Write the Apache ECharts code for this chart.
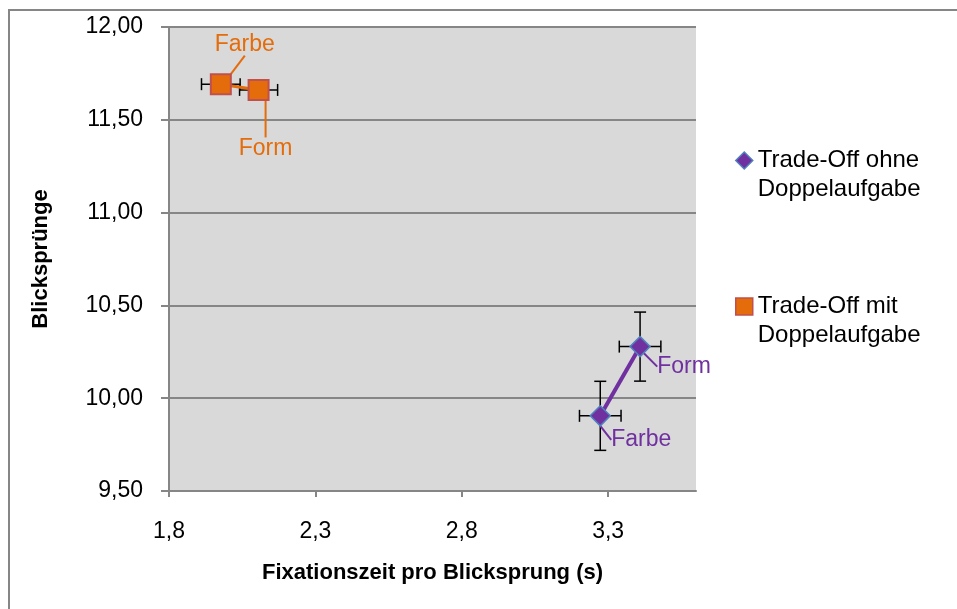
<!DOCTYPE html>
<html>
<head>
<meta charset="utf-8">
<script src="https://cdn.jsdelivr.net/npm/echarts@6/dist/echarts.min.js"></script>
<style>
html,body{margin:0;padding:0;background:#fff;}
#chart{width:957px;height:609px;}
</style>
</head>
<body>
<div id="chart"></div>
<script>
// ---- data ----
var seriesNames = ['Trade-Off ohne\nDoppelaufgabe', 'Trade-Off mit\nDoppelaufgabe'];
var pointLabels = ['Farbe', 'Form'];
// ohne Doppelaufgabe
var ohneX = [3.273, 3.409];
var ohneY = [9.905, 10.278];
var ohneXErr = [0.071, 0.071];
var ohneYErr = [0.186, 0.186];
// mit Doppelaufgabe
var mitX = [1.977, 2.106];
var mitY = [11.692, 11.661];
var mitXErr = [0.066, 0.065];
var mitYErr = [0, 0];
// axes
var xMin = 1.8, xMax = 3.6, xStep = 0.5;
var yMin = 9.5, yMax = 12.0, yStep = 0.5;

// ---- styling ----
var FONT = 'Liberation Sans';
var PURPLE = '#7030a0';
var ORANGE = '#e46c0a';
var GRID = '#868686';
// label offsets (px) per series/point
var labelOffsets = [
  [[41, 24], [44, 20]],
  [[24, -40], [7, 59]]
];

function pts(xs, ys) { return xs.map(function (x, i) { return [x, ys[i]]; }); }
function errData(xs, ys, xe, ye) { return xs.map(function (x, i) { return [x, ys[i], xe[i], ye[i]]; }); }

function errorRender(params, api) {
  var x = api.value(0), y = api.value(1), xe = api.value(2), ye = api.value(3);
  var c = [];
  var cap = 6;
  var st = { stroke: '#000', lineWidth: 1.5 };
  if (xe > 0) {
    var l = api.coord([x - xe, y]), r = api.coord([x + xe, y]);
    c.push({ type: 'line', shape: { x1: l[0], y1: l[1], x2: r[0], y2: r[1] }, style: st });
    c.push({ type: 'line', shape: { x1: l[0], y1: l[1] - cap, x2: l[0], y2: l[1] + cap }, style: st });
    c.push({ type: 'line', shape: { x1: r[0], y1: r[1] - cap, x2: r[0], y2: r[1] + cap }, style: st });
  }
  if (ye > 0) {
    var t = api.coord([x, y + ye]), b = api.coord([x, y - ye]);
    c.push({ type: 'line', shape: { x1: t[0], y1: t[1], x2: b[0], y2: b[1] }, style: st });
    c.push({ type: 'line', shape: { x1: t[0] - cap, y1: t[1], x2: t[0] + cap, y2: t[1] }, style: st });
    c.push({ type: 'line', shape: { x1: b[0] - cap, y1: b[1], x2: b[0] + cap, y2: b[1] }, style: st });
  }
  return { type: 'group', children: c };
}

function labelCfg(color) {
  return {
    show: true,
    position: 'inside',
    formatter: function (p) { return pointLabels[p.dataIndex]; },
    color: color,
    fontFamily: FONT,
    fontSize: 23
  };
}

var chart = echarts.init(document.getElementById('chart'), null, { renderer: 'canvas' });
var option = {
  animation: false,
  backgroundColor: '#fff',
  textStyle: { fontFamily: FONT },
  graphic: [{
    type: 'rect', shape: { x: 9, y: 10, width: 1200, height: 900 },
    style: { fill: 'none', stroke: GRID, lineWidth: 2 }, silent: true, z: -1
  }],
  grid: {
    left: 169, top: 27, width: 527, height: 464,
    show: true, backgroundColor: '#d9d9d9', borderWidth: 0
  },
  legend: {
    orient: 'vertical',
    left: 730, top: 112,
    itemGap: 59,
    itemWidth: 17, itemHeight: 17,
    itemStyle: { borderWidth: 1.5 },
    formatter: function (name) { return ' \n' + name; },
    textStyle: { fontFamily: FONT, fontSize: 24, color: '#000', lineHeight: 29 },
    data: [
      { name: seriesNames[0], icon: 'diamond' },
      { name: seriesNames[1], icon: 'rect' }
    ]
  },
  xAxis: {
    type: 'value', min: xMin, max: xMax, interval: xStep,
    name: 'Fixationszeit pro Blicksprung (s)',
    nameLocation: 'middle', nameGap: 71,
    nameTextStyle: { fontFamily: FONT, fontSize: 22, fontWeight: 'bold', color: '#000' },
    axisLine: { show: true, lineStyle: { color: GRID, width: 2 } },
    axisTick: { show: true, length: 6, lineStyle: { color: GRID, width: 2 } },
    axisLabel: {
      fontFamily: FONT, fontSize: 23, color: '#000', margin: 29, showMaxLabel: false,
      formatter: function (v) { return v.toFixed(1).replace('.', ','); }
    },
    splitLine: { show: false }
  },
  yAxis: {
    type: 'value', min: yMin, max: yMax, interval: yStep,
    name: 'Blicksprünge',
    nameLocation: 'middle', nameGap: 117,
    nameTextStyle: { fontFamily: FONT, fontSize: 22, fontWeight: 'bold', color: '#000' },
    axisLine: { show: true, lineStyle: { color: GRID, width: 2 } },
    axisTick: { show: true, length: 8, lineStyle: { color: GRID, width: 2 } },
    axisLabel: {
      fontFamily: FONT, fontSize: 23, color: '#000', margin: 26,
      formatter: function (v) { return v.toFixed(2).replace('.', ','); }
    },
    splitLine: { show: true, lineStyle: { color: GRID, width: 2 } }
  },
  series: [
    {
      name: seriesNames[0], type: 'scatter', z: 5,
      symbol: 'diamond', symbolSize: 20,
      itemStyle: { color: PURPLE, borderColor: '#4f81bd', borderWidth: 1.5, opacity: 1 },
      data: pts(ohneX, ohneY),
      label: labelCfg(PURPLE),
      labelLine: { show: true, lineStyle: { color: PURPLE, width: 2 } },
      labelLayout: function (p) { var o = labelOffsets[0][p.dataIndex]; return { dx: o[0], dy: o[1] }; }
    },
    {
      name: seriesNames[1], type: 'scatter', z: 5,
      symbol: 'rect', symbolSize: 20,
      itemStyle: { color: ORANGE, borderColor: '#c0504d', borderWidth: 2, opacity: 1 },
      data: pts(mitX, mitY),
      label: labelCfg(ORANGE),
      labelLine: { show: true, lineStyle: { color: ORANGE, width: 2 } },
      labelLayout: function (p) { var o = labelOffsets[1][p.dataIndex]; return { dx: o[0], dy: o[1] }; }
    },
    {
      name: seriesNames[0], type: 'line', z: 4, symbol: 'none',
      lineStyle: { color: PURPLE, width: 4 },
      itemStyle: { color: PURPLE },
      data: pts(ohneX, ohneY)
    },
    {
      name: seriesNames[1], type: 'line', z: 4, symbol: 'none',
      lineStyle: { color: ORANGE, width: 3 },
      itemStyle: { color: ORANGE },
      data: pts(mitX, mitY)
    },
    {
      name: 'err0', type: 'custom', z: 3, renderItem: errorRender,
      data: errData(ohneX, ohneY, ohneXErr, ohneYErr)
    },
    {
      name: 'err1', type: 'custom', z: 3, renderItem: errorRender,
      data: errData(mitX, mitY, mitXErr, mitYErr)
    }
  ]
};
chart.setOption(option);
</script>
</body>
</html>
